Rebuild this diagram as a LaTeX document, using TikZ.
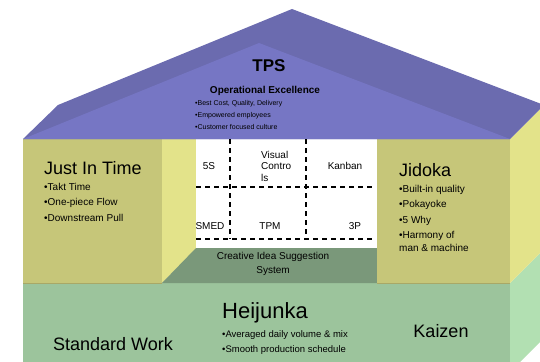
\documentclass[tikz,border=0pt]{standalone}
\usepackage{fontspec}
\setmainfont{Liberation Sans}
\definecolor{roofdark}{RGB}{107,107,175}
\definecolor{rooffront}{RGB}{118,118,196}
\definecolor{pillarfront}{RGB}{198,198,121}
\definecolor{pillarside}{RGB}{227,227,138}
\definecolor{basefront}{RGB}{156,196,156}
\definecolor{baseside}{RGB}{178,224,178}
\definecolor{ideagreen}{RGB}{122,152,122}

\begin{document}
\begin{tikzpicture}[x=1pt, y=-1pt,
    title/.style={font=\fontsize{18}{20}\selectfont, inner sep=0pt},
    list/.style={font=\fontsize{10}{15.5}\selectfont, align=left, inner sep=0pt, anchor=north west},
    cell/.style={font=\fontsize{10}{11.5}\selectfont, inner sep=0pt},
    grid/.style={dash pattern=on 5pt off 4pt, line width=1.5pt}
]
\useasboundingbox (0,0) rectangle (540,361);
\clip (0,0) rectangle (540,361);

% Base
\fill[baseside] (510,283) -- (544,249) -- (544,338) -- (510,372) -- cycle;
\fill[basefront] (23,283) rectangle (510,372);

% Pillars
\fill[pillarside] (510,139) -- (544,105) -- (544,249) -- (510,283) -- cycle;
\fill[pillarfront] (23,139) rectangle (162,283);
\fill[pillarside] (162,139) -- (196,105) -- (196,249) -- (162,283) -- cycle;
\fill[white] (196,139) rectangle (377,248);
\fill[ideagreen] (196,248) -- (377,248) -- (377,283) -- (162,283) -- cycle;
\fill[pillarfront] (377,139) rectangle (510,283);
\draw[pillarfront!85!black, line width=1pt] (23,283) -- (162,283) (377,283) -- (510,283);

% Roof
\fill[roofdark] (23,139) -- (58,105) -- (292,9) -- (544,105) -- (510,139) -- cycle;
\fill[rooffront] (23,139) -- (259,43) -- (510,139) -- cycle;

% Tools grid
\draw[grid] (230,139) -- (230,239);
\draw[grid] (306,139) -- (306,239);
\draw[grid] (196,187) -- (372,187);
\draw[grid] (196,239) -- (372,239);

% Roof text
\node (tps) [font=\fontsize{17}{19}\selectfont\bfseries, inner sep=0pt] at (269,66) {TPS};
\node (opex) [font=\fontsize{10}{12}\selectfont\bfseries, inner sep=0pt, anchor=base] at (265,93) {Operational Excellence};
\node (goals) [list, font=\fontsize{7}{12}\selectfont] at (195,100) {•Best Cost, Quality, Delivery\\•Empowered employees\\•Customer focused culture};

% Just In Time
\node (jit) [title, anchor=west] at (44,168) {Just In Time};
\node (jitlist) [list] at (44,183) {•Takt Time\\•One-piece Flow\\•Downstream Pull};

% Jidoka
\node (jidoka) [title, anchor=west] at (399,170) {Jidoka};
\node (jidokalist) [list] at (399,185) {•Built-in quality\\•Pokayoke\\•5 Why\\•Harmony of\\[-2.5pt]man \& machine};

% Tools
\node (fives) [cell] at (209,166) {5S};
\node (visual) [cell, align=left, anchor=west] at (261,166) {Visual\\Contro\\ls};
\node (kanban) [cell] at (345,166) {Kanban};
\node (smed) [cell] at (210,226) {SMED};
\node (tpm) [cell] at (270,226) {TPM};
\node (threep) [cell] at (355,226) {3P};
\node (idea) [cell, align=center, font=\fontsize{10}{14}\selectfont] at (273,264) {Creative Idea Suggestion\\System};

% Base text
\node (heijunka) [font=\fontsize{22}{24}\selectfont, inner sep=0pt, anchor=base west] at (222,318) {Heijunka};
\node (heijlist) [list, font=\fontsize{9.5}{15}\selectfont] at (222,330) {•Averaged daily volume \& mix\\•Smooth production schedule};
\node (stdwork) [title] at (113,344) {Standard Work};
\node (kaizen) [title] at (441,331) {Kaizen};

\end{tikzpicture}
\end{document}
